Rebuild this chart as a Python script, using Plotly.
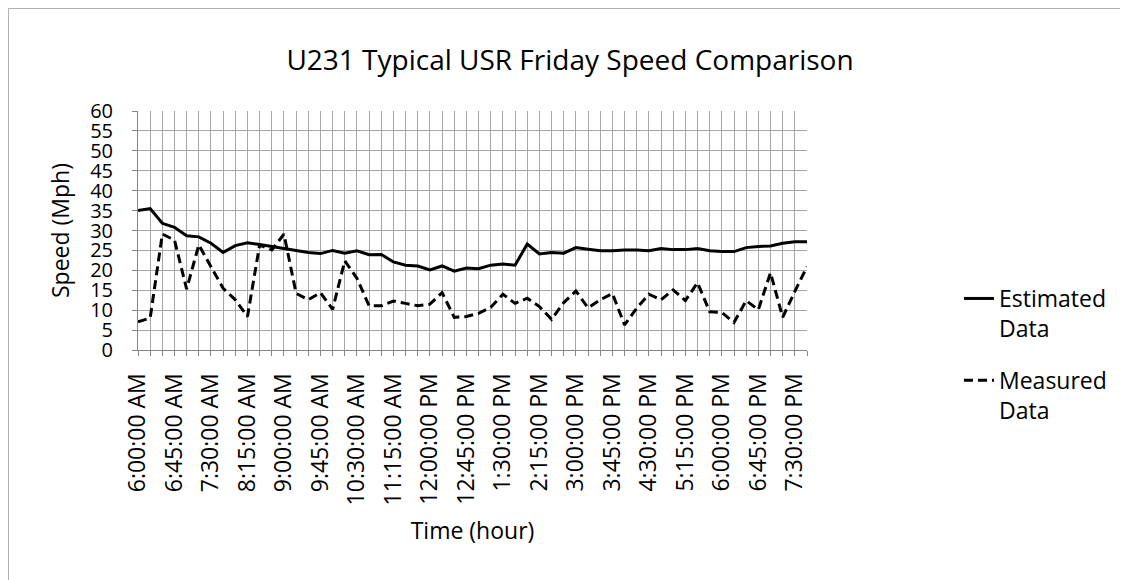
import plotly.graph_objects as go

times = [
    "6:00:00 AM", "6:15:00 AM", "6:30:00 AM", "6:45:00 AM", "7:00:00 AM", "7:15:00 AM", "7:30:00 AM", "7:45:00 AM",
    "8:00:00 AM", "8:15:00 AM", "8:30:00 AM", "8:45:00 AM", "9:00:00 AM", "9:15:00 AM", "9:30:00 AM", "9:45:00 AM",
    "10:00:00 AM", "10:15:00 AM", "10:30:00 AM", "10:45:00 AM", "11:00:00 AM", "11:15:00 AM", "11:30:00 AM", "11:45:00 AM",
    "12:00:00 PM", "12:15:00 PM", "12:30:00 PM", "12:45:00 PM", "1:00:00 PM", "1:15:00 PM", "1:30:00 PM", "1:45:00 PM",
    "2:00:00 PM", "2:15:00 PM", "2:30:00 PM", "2:45:00 PM", "3:00:00 PM", "3:15:00 PM", "3:30:00 PM", "3:45:00 PM",
    "4:00:00 PM", "4:15:00 PM", "4:30:00 PM", "4:45:00 PM", "5:00:00 PM", "5:15:00 PM", "5:30:00 PM", "5:45:00 PM",
    "6:00:00 PM", "6:15:00 PM", "6:30:00 PM", "6:45:00 PM", "7:00:00 PM", "7:15:00 PM", "7:30:00 PM", "7:45:00 PM",
]

estimated = [
    35.0, 35.5, 31.8, 30.8, 28.7, 28.4, 26.8, 24.5, 26.2, 26.9, 26.5, 26.0, 25.5, 25.1, 24.5, 24.2,
    25.0, 24.3, 24.9, 23.9, 24.0, 22.1, 21.3, 21.1, 20.1, 21.1, 19.8, 20.6, 20.4, 21.3, 21.6, 21.3,
    26.6, 24.1, 24.5, 24.3, 25.7, 25.3, 24.9, 24.9, 25.1, 25.1, 24.9, 25.5, 25.2, 25.2, 25.5, 24.9,
    24.7, 24.7, 25.7, 26.0, 26.1, 26.8, 27.2, 27.2,
]

measured = [
    7.1, 8.0, 29.1, 27.6, 15.3, 26.4, 20.9, 15.5, 12.6, 8.4, 26.4, 25.1, 29.1, 14.2, 12.6, 14.4,
    10.2, 22.4, 18.0, 11.1, 11.1, 12.3, 11.7, 11.1, 11.5, 14.4, 8.2, 8.4, 9.2, 10.7, 14.0, 11.7,
    13.0, 10.9, 7.7, 11.9, 14.8, 10.6, 12.6, 14.2, 6.3, 10.5, 14.0, 12.6, 15.1, 12.4, 16.9, 9.6,
    9.4, 6.9, 12.4, 10.1, 19.4, 8.2, 14.7, 20.9,
]

y_ticks = [0, 5, 10, 15, 20, 25, 30, 35, 40, 45, 50, 55, 60]
label_step = 3
tick_text = [t if i % label_step == 0 else "" for i, t in enumerate(times)]

FONT = "Open Sans"
# page has an 8px body margin; figure coordinates below are page coords minus 8
W, H = 1120, 572
ML, MR, MT, MB = 130, 321, 103, 230
PW, PH = W - ML - MR, H - MT - MB

def px_to_paper_x(px):
    return (px - ML) / PW

def px_to_paper_y(py):
    return (H - MB - py) / PH

fig = go.Figure()
fig.add_trace(go.Scatter(
    x=times, y=estimated, mode="lines", name="Estimated<br>Data",
    legendgroup="est",
    line=dict(color="black", width=3),
))
fig.add_trace(go.Scatter(
    x=times, y=measured, mode="lines", name="Measured<br>Data",
    legendgroup="meas",
    line=dict(color="black", width=3, dash="9px,5px"),
))

fig.update_layout(
    width=W, height=H,
    margin=dict(l=ML, r=MR, t=MT, b=MB, pad=0),
    paper_bgcolor="white", plot_bgcolor="white",
    font=dict(family=FONT, color="black", size=23),
    title=dict(text="U231 Typical USR Friday Speed Comparison",
               x=px_to_paper_x(562), xref="paper", xanchor="center",
               y=1 - 52 / H, yanchor="middle",
               font=dict(size=28, family=FONT, color="black")),
    showlegend=True,
    legend=dict(
        x=px_to_paper_x(951), y=px_to_paper_y(269), xanchor="left", yanchor="top",
        font=dict(size=23, family=FONT), valign="top",
        bgcolor="rgba(0,0,0,0)", tracegroupgap=19, traceorder="grouped",
    ),
    shapes=[dict(type="rect", xref="paper", yref="paper",
                 x0=px_to_paper_x(0.5), x1=px_to_paper_x(1200),
                 y0=px_to_paper_y(640), y1=px_to_paper_y(0.5),
                 line=dict(color="#b0b0b0", width=1), fillcolor="rgba(0,0,0,0)",
                 layer="below")],
)

fig.update_xaxes(
    type="category", range=[0, len(times) - 1],
    tickmode="array", tickvals=times, ticktext=tick_text,
    tickangle=-90, tickfont=dict(size=23, family=FONT),
    showgrid=True, gridcolor="#a6a6a6", gridwidth=1,
    showline=True, linecolor="#868686", linewidth=1,
    ticks="outside", ticklen=5, tickcolor="#868686",
    ticklabelstandoff=8,
    title=dict(text="Time (hour)", font=dict(size=23, family=FONT), standoff=18),
    zeroline=False,
)
fig.update_yaxes(
    range=[0, 60], tickmode="array", tickvals=y_ticks,
    tickfont=dict(size=20, family=FONT),
    showgrid=True, gridcolor="#a6a6a6", gridwidth=1,
    showline=True, linecolor="#868686", linewidth=1,
    ticks="outside", ticklen=5, tickcolor="#868686",
    ticklabelstandoff=15,
    title=dict(text="Speed (Mph)", font=dict(size=23, family=FONT), standoff=14),
    zeroline=False,
)

fig.write_html("out.html")
